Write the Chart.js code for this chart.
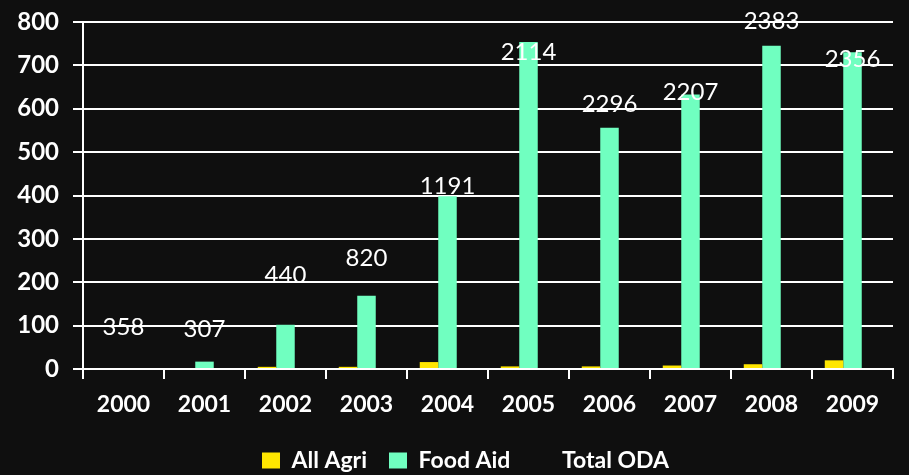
<!DOCTYPE html>
<html>
<head>
<meta charset="utf-8">
<script src="https://cdn.jsdelivr.net/npm/chart.js@4.4.1/dist/chart.umd.min.js"></script>
<style>
  html, body { margin: 0; padding: 0; background: #0f0f0f; }
  #wrap { width: 909px; height: 475px; }
</style>
</head>
<body>
<div id="wrap"><canvas id="grafico" width="909" height="475"></canvas></div>
<script>
// ====== datos ======
const anios = ['2000', '2001', '2002', '2003', '2004', '2005', '2006', '2007', '2008', '2009'];
const allAgri = [0, 0, 5, 5, 16, 6, 6, 8, 11, 20];
const foodAid = [0, 17, 102, 169, 398, 754, 556, 633, 745, 730];
const totalOda = [358, 307, 440, 820, 1191, 2114, 2296, 2207, 2383, 2356];
// altura (en unidades del eje Y) donde aparece la etiqueta de Total ODA
const nivelEtiquetaOda = [97, 91, 216, 255, 422, 730, 611, 639, 801, 714];
const ticksY = [0, 100, 200, 300, 400, 500, 600, 700, 800];

const BLANCO = '#ffffff';
const FUENTE = 'Lato';

// etiquetas de Total ODA
const etiquetasOda = {
    id: 'etiquetasOda',
    afterDatasetsDraw(chart) {
        const ctx = chart.ctx;
        const x = chart.scales.x;
        const y = chart.scales.y;
        ctx.save();
        ctx.font = '24px ' + FUENTE;
        ctx.fillStyle = BLANCO;
        ctx.textAlign = 'center';
        ctx.textBaseline = 'middle';
        totalOda.forEach((v, i) => {
            ctx.fillText(String(v), x.getPixelForValue(i), y.getPixelForValue(nivelEtiquetaOda[i]));
        });
        ctx.restore();
    }
};

// la leyenda del original queda algo a la derecha del centro
const moverLeyenda = {
    id: 'moverLeyenda',
    afterLayout(chart) {
        if (chart.legend) {
            chart.legend.left += 19;
            chart.legend.right += 19;
        }
    }
};

new Chart(document.getElementById('grafico'), {
    type: 'bar',
    data: {
        labels: anios,
        datasets: [
            { label: 'All Agri', data: allAgri, backgroundColor: '#ffe600', yAxisID: 'y' },
            { label: 'Food Aid', data: foodAid, backgroundColor: '#70ffc0', yAxisID: 'y' },
            { label: 'Total ODA', data: totalOda, backgroundColor: 'rgba(0,0,0,0)', borderWidth: 0, yAxisID: 'y2' }
        ]
    },
    options: {
        responsive: false,
        animation: false,
        categoryPercentage: 0.685,
        barPercentage: 1,
        layout: { padding: { top: 22, right: 16, left: 0, bottom: -7 } },
        scales: {
            x: {
                afterFit: s => { s.height = 58; s.paddingLeft = 0; s.paddingRight = 0; },
                grid: { drawOnChartArea: false, color: BLANCO, lineWidth: 2, tickLength: 10, offset: true },
                border: { color: BLANCO, width: 2 },
                ticks: { color: BLANCO, font: { family: FUENTE, size: 23, weight: 'bold' }, padding: 12, maxRotation: 0 }
            },
            y: {
                min: 0, max: 800,
                afterFit: s => { s.width = 83; s.paddingTop = 0; s.paddingBottom = 0; },
                afterBuildTicks: s => { s.ticks = ticksY.map(v => ({ value: v })); },
                grid: { color: BLANCO, lineWidth: 2, tickLength: 10 },
                border: { color: BLANCO, width: 2 },
                ticks: { color: BLANCO, font: { family: FUENTE, size: 24, weight: 'bold' }, padding: 14 }
            },
            y2: { display: false, min: 0, max: 2500 }
        },
        plugins: {
            legend: {
                position: 'bottom',
                labels: {
                    color: BLANCO,
                    boxWidth: 18,
                    boxHeight: 16,
                    padding: 22,
                    font: { family: FUENTE, size: 23, weight: 'bold' }
                }
            },
            tooltip: { enabled: false }
        }
    },
    plugins: [etiquetasOda, moverLeyenda]
});
</script>
</body>
</html>
